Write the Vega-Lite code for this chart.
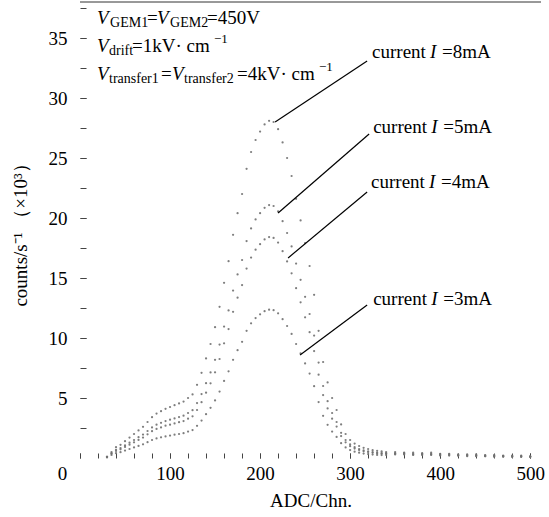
{
  "$schema": "https://vega.github.io/schema/vega-lite/v6.json",
  "width": 461,
  "height": 456,
  "autosize": "none",
  "padding": {"left": 80, "top": 2, "right": 8, "bottom": 59},
  "background": "white",
  "data": {"values": [{}]},
  "config": {
    "view": {"stroke": null},
    "font": "Liberation Serif",
    "text": {"font": "Liberation Serif", "color": "black"},
    "axis": {
      "labelFont": "Liberation Serif",
      "titleFont": "Liberation Serif",
      "labelFontSize": 19,
      "titleFontSize": 19,
      "titleFontWeight": "normal",
      "labelColor": "black",
      "titleColor": "black",
      "domain": false,
      "grid": false,
      "tickColor": "#444",
      "tickWidth": 1,
      "labelOverlap": false,
      "labelBound": false,
      "labelFlush": false
    }
  },
  "datasets": {
    "spectra": [
      {"adc":30,"8mA":0.1,"5mA":0.1,"4mA":0.1,"3mA":0.05},
      {"adc":35,"8mA":0.5,"5mA":0.4,"4mA":0.35,"3mA":0.25},
      {"adc":40,"8mA":0.9,"5mA":0.68,"4mA":0.59,"3mA":0.4},
      {"adc":45,"8mA":1.1,"5mA":0.83,"4mA":0.72,"3mA":0.48},
      {"adc":50,"8mA":1.4,"5mA":1.05,"4mA":0.92,"3mA":0.62},
      {"adc":55,"8mA":1.7,"5mA":1.28,"4mA":1.11,"3mA":0.75},
      {"adc":60,"8mA":2.0,"5mA":1.5,"4mA":1.31,"3mA":0.88},
      {"adc":65,"8mA":2.3,"5mA":1.73,"4mA":1.51,"3mA":1.01},
      {"adc":70,"8mA":2.6,"5mA":1.95,"4mA":1.7,"3mA":1.14},
      {"adc":75,"8mA":3.0,"5mA":2.25,"4mA":1.97,"3mA":1.32},
      {"adc":80,"8mA":3.4,"5mA":2.55,"4mA":2.23,"3mA":1.5},
      {"adc":85,"8mA":3.7,"5mA":2.78,"4mA":2.42,"3mA":1.63},
      {"adc":90,"8mA":3.9,"5mA":2.93,"4mA":2.55,"3mA":1.72},
      {"adc":95,"8mA":4.1,"5mA":3.08,"4mA":2.69,"3mA":1.8},
      {"adc":100,"8mA":4.25,"5mA":3.19,"4mA":2.78,"3mA":1.87},
      {"adc":105,"8mA":4.4,"5mA":3.3,"4mA":2.88,"3mA":1.94},
      {"adc":110,"8mA":4.55,"5mA":3.41,"4mA":2.98,"3mA":2.0},
      {"adc":115,"8mA":4.7,"5mA":3.53,"4mA":3.08,"3mA":2.07},
      {"adc":120,"8mA":5.0,"5mA":3.75,"4mA":3.28,"3mA":2.2},
      {"adc":125,"8mA":5.3,"5mA":3.98,"4mA":3.47,"3mA":2.33},
      {"adc":130,"8mA":6.1,"5mA":4.58,"4mA":4.0,"3mA":2.68},
      {"adc":135,"8mA":7.1,"5mA":5.33,"4mA":4.65,"3mA":3.12},
      {"adc":140,"8mA":8.3,"5mA":6.23,"4mA":5.44,"3mA":3.65},
      {"adc":145,"8mA":9.5,"5mA":7.13,"4mA":6.22,"3mA":4.18},
      {"adc":150,"8mA":10.9,"5mA":8.18,"4mA":7.14,"3mA":4.8},
      {"adc":155,"8mA":12.6,"5mA":9.45,"4mA":8.25,"3mA":5.54},
      {"adc":160,"8mA":14.6,"5mA":10.95,"4mA":9.56,"3mA":6.42},
      {"adc":165,"8mA":16.4,"5mA":12.3,"4mA":10.74,"3mA":7.22},
      {"adc":170,"8mA":18.6,"5mA":13.95,"4mA":12.18,"3mA":8.18},
      {"adc":175,"8mA":20.4,"5mA":15.3,"4mA":13.36,"3mA":8.98},
      {"adc":180,"8mA":22.0,"5mA":16.5,"4mA":14.41,"3mA":9.68},
      {"adc":185,"8mA":24.1,"5mA":18.08,"4mA":15.79,"3mA":10.6},
      {"adc":190,"8mA":25.5,"5mA":19.13,"4mA":16.7,"3mA":11.22},
      {"adc":195,"8mA":26.5,"5mA":19.88,"4mA":17.36,"3mA":11.66},
      {"adc":200,"8mA":27.2,"5mA":20.4,"4mA":17.82,"3mA":11.97},
      {"adc":205,"8mA":27.8,"5mA":20.85,"4mA":18.21,"3mA":12.23},
      {"adc":210,"8mA":28.1,"5mA":21.08,"4mA":18.41,"3mA":12.36},
      {"adc":215,"8mA":28.0,"5mA":21.0,"4mA":18.34,"3mA":12.32},
      {"adc":220,"8mA":27.4,"5mA":20.55,"4mA":17.95,"3mA":12.06},
      {"adc":225,"8mA":26.3,"5mA":19.73,"4mA":17.23,"3mA":11.57},
      {"adc":230,"8mA":25.0,"5mA":18.75,"4mA":16.38,"3mA":11.0},
      {"adc":235,"8mA":23.5,"5mA":17.63,"4mA":15.39,"3mA":10.34},
      {"adc":240,"8mA":21.6,"5mA":16.2,"4mA":14.15,"3mA":9.5},
      {"adc":245,"8mA":19.8,"5mA":14.85,"4mA":12.97,"3mA":8.71},
      {"adc":250,"8mA":17.9,"5mA":13.43,"4mA":11.72,"3mA":7.88},
      {"adc":255,"8mA":16.0,"5mA":12.0,"4mA":10.48,"3mA":7.04},
      {"adc":260,"8mA":13.6,"5mA":10.2,"4mA":8.91,"3mA":5.98},
      {"adc":265,"8mA":10.6,"5mA":7.95,"4mA":6.94,"3mA":4.66},
      {"adc":270,"8mA":8.0,"5mA":6.0,"4mA":5.24,"3mA":3.52},
      {"adc":275,"8mA":6.3,"5mA":4.73,"4mA":4.13,"3mA":2.77},
      {"adc":280,"8mA":5.0,"5mA":3.75,"4mA":3.28,"3mA":2.2},
      {"adc":285,"8mA":4.0,"5mA":3.0,"4mA":2.62,"3mA":1.76},
      {"adc":290,"8mA":2.8,"5mA":2.1,"4mA":1.83,"3mA":1.23},
      {"adc":295,"8mA":2.0,"5mA":1.5,"4mA":1.31,"3mA":0.88},
      {"adc":300,"8mA":1.5,"5mA":1.13,"4mA":0.98,"3mA":0.66},
      {"adc":305,"8mA":1.2,"5mA":0.9,"4mA":0.79,"3mA":0.53},
      {"adc":310,"8mA":1.0,"5mA":0.75,"4mA":0.66,"3mA":0.44},
      {"adc":315,"8mA":0.85,"5mA":0.64,"4mA":0.56,"3mA":0.37},
      {"adc":320,"8mA":0.75,"5mA":0.56,"4mA":0.49,"3mA":0.33},
      {"adc":325,"8mA":0.65,"5mA":0.49,"4mA":0.43,"3mA":0.29},
      {"adc":330,"8mA":0.6,"5mA":0.45,"4mA":0.39,"3mA":0.26},
      {"adc":335,"8mA":0.55,"5mA":0.41,"4mA":0.36,"3mA":0.24},
      {"adc":340,"8mA":0.5,"5mA":0.4,"4mA":0.35,"3mA":0.25},
      {"adc":350,"8mA":0.5,"5mA":0.4,"4mA":0.35,"3mA":0.3},
      {"adc":360,"8mA":0.45,"5mA":0.4,"4mA":0.35,"3mA":0.3},
      {"adc":370,"8mA":0.45,"5mA":0.35,"4mA":0.3,"3mA":0.25},
      {"adc":380,"8mA":0.4,"5mA":0.35,"4mA":0.3,"3mA":0.25},
      {"adc":390,"8mA":0.45,"5mA":0.35,"4mA":0.3,"3mA":0.25},
      {"adc":400,"8mA":0.35,"5mA":0.3,"4mA":0.25,"3mA":0.2},
      {"adc":410,"8mA":0.35,"5mA":0.3,"4mA":0.25,"3mA":0.2},
      {"adc":420,"8mA":0.3,"5mA":0.25,"4mA":0.2,"3mA":0.2},
      {"adc":430,"8mA":0.3,"5mA":0.25,"4mA":0.2,"3mA":0.15},
      {"adc":440,"8mA":0.3,"5mA":0.2,"4mA":0.2,"3mA":0.15},
      {"adc":450,"8mA":0.25,"5mA":0.2,"4mA":0.15,"3mA":0.15},
      {"adc":460,"8mA":0.25,"5mA":0.2,"4mA":0.15,"3mA":0.1},
      {"adc":470,"8mA":0.2,"5mA":0.15,"4mA":0.15,"3mA":0.1},
      {"adc":480,"8mA":0.2,"5mA":0.15,"4mA":0.1,"3mA":0.1},
      {"adc":490,"8mA":0.2,"5mA":0.15,"4mA":0.1,"3mA":0.1},
      {"adc":500,"8mA":0.15,"5mA":0.1,"4mA":0.1,"3mA":0.1}
    ],
    "ann": [
      {"lab":"=8mA","x1":216.7,"y1":28.0,"x2":318.9,"y2":33.08,"tx":324.4,"ty":33.33},
      {"lab":"=5mA","x1":220.0,"y1":20.42,"x2":321.1,"y2":27.0,"tx":325.6,"ty":27.08},
      {"lab":"=4mA","x1":231.1,"y1":16.67,"x2":318.9,"y2":22.17,"tx":323.3,"ty":22.5},
      {"lab":"=3mA","x1":244.4,"y1":8.58,"x2":318.9,"y2":12.75,"tx":325.6,"ty":12.75}
    ]
  },
  "resolve": {"axis": {"x": "independent", "y": "independent"}},
  "layer": [
    {
      "data": {"name": "spectra"},
      "transform": [{"fold": ["8mA", "5mA", "4mA", "3mA"], "as": ["current", "count"]}],
      "mark": {"type": "point", "filled": true, "size": 5, "color": "#707070", "opacity": 0.9},
      "encoding": {
        "x": {
          "field": "adc", "type": "quantitative",
          "scale": {"domain": [0, 512], "nice": false, "zero": false},
          "axis": {
            "title": "ADC/Chn.",
            "orient": "bottom",
            "values": [0, 100, 200, 300, 400, 500],
            "labelOffset": {"expr": "datum.value === 0 ? -18 : 0"},
            "tickSize": -5,
            "labelPadding": 11,
            "titlePadding": 8
          }
        },
        "y": {
          "field": "count", "type": "quantitative",
          "scale": {"domain": [0, 38], "nice": false},
          "axis": {
            "title": "counts/s⁻¹ （×10³）",
            "orient": "left",
            "values": [5, 10, 15, 20, 25, 30, 35],
            "tickSize": -6,
            "labelPadding": 19,
            "titlePadding": 18
          }
        },
        "detail": {"field": "current"}
      }
    },
    {
      "mark": {"type": "rule", "color": "#333", "strokeWidth": 1},
      "encoding": {
        "y": {"datum": 38, "axis": {
          "orient": "left",
          "values": [2.5,5,7.5,10,12.5,15,17.5,20,22.5,25,27.5,30,32.5,35,37.5],
          "labels": false, "title": null, "tickSize": -6
        }}
      }
    },
    {
      "data": {"name": "ann"},
      "mark": {"type": "rule", "color": "black", "strokeWidth": 1.2},
      "encoding": {
        "x": {"field": "x1", "type": "quantitative", "axis": {
          "orient": "bottom",
          "values": [0,20,40,60,80,100,120,140,160,180,200,220,240,260,280,300,320,340,360,380,400,420,440,460,480,500],
          "labels": false, "title": null, "tickSize": -5
        }},
        "y": {"field": "y1", "type": "quantitative", "axis": null},
        "x2": {"field": "x2"},
        "y2": {"field": "y2"}
      }
    },
    {
      "data": {"name": "ann"},
      "mark": {"type": "text", "align": "left", "baseline": "alphabetic", "fontSize": 19},
      "encoding": {
        "x": {"field": "tx", "type": "quantitative", "axis": null},
        "y": {"field": "ty", "type": "quantitative", "axis": null},
        "text": {"value": "current"}
      }
    },
    {
      "data": {"name": "ann"},
      "mark": {"type": "text", "align": "left", "baseline": "alphabetic", "fontSize": 19, "fontStyle": "italic", "dx": 58},
      "encoding": {
        "x": {"field": "tx", "type": "quantitative", "axis": null},
        "y": {"field": "ty", "type": "quantitative", "axis": null},
        "text": {"value": "I"}
      }
    },
    {
      "data": {"name": "ann"},
      "mark": {"type": "text", "align": "left", "baseline": "alphabetic", "fontSize": 19, "dx": 70},
      "encoding": {
        "x": {"field": "tx", "type": "quantitative", "axis": null},
        "y": {"field": "ty", "type": "quantitative", "axis": null},
        "text": {"field": "lab"}
      }
    },
    {"mark": {"type": "text", "align": "left", "baseline": "alphabetic", "fontSize": 19, "fontStyle": "italic", "dx": 0},
     "encoding": {"x": {"datum": 18.9, "axis": null}, "y": {"datum": 36.17, "axis": null}, "text": {"value": "V"}}},
    {"mark": {"type": "text", "align": "left", "baseline": "alphabetic", "fontSize": 14, "dx": 13, "dy": 3},
     "encoding": {"x": {"datum": 18.9, "axis": null}, "y": {"datum": 36.17, "axis": null}, "text": {"value": "GEM1"}}},
    {"mark": {"type": "text", "align": "left", "baseline": "alphabetic", "fontSize": 19, "dx": 50},
     "encoding": {"x": {"datum": 18.9, "axis": null}, "y": {"datum": 36.17, "axis": null}, "text": {"value": "="}}},
    {"mark": {"type": "text", "align": "left", "baseline": "alphabetic", "fontSize": 19, "fontStyle": "italic", "dx": 60},
     "encoding": {"x": {"datum": 18.9, "axis": null}, "y": {"datum": 36.17, "axis": null}, "text": {"value": "V"}}},
    {"mark": {"type": "text", "align": "left", "baseline": "alphabetic", "fontSize": 14, "dx": 73, "dy": 3},
     "encoding": {"x": {"datum": 18.9, "axis": null}, "y": {"datum": 36.17, "axis": null}, "text": {"value": "GEM2"}}},
    {"mark": {"type": "text", "align": "left", "baseline": "alphabetic", "fontSize": 19, "dx": 110},
     "encoding": {"x": {"datum": 18.9, "axis": null}, "y": {"datum": 36.17, "axis": null}, "text": {"value": "=450V"}}},
    {"mark": {"type": "text", "align": "left", "baseline": "alphabetic", "fontSize": 19, "fontStyle": "italic", "dx": 0},
     "encoding": {"x": {"datum": 18.9, "axis": null}, "y": {"datum": 33.83, "axis": null}, "text": {"value": "V"}}},
    {"mark": {"type": "text", "align": "left", "baseline": "alphabetic", "fontSize": 14, "dx": 12, "dy": 3},
     "encoding": {"x": {"datum": 18.9, "axis": null}, "y": {"datum": 33.83, "axis": null}, "text": {"value": "drift"}}},
    {"mark": {"type": "text", "align": "left", "baseline": "alphabetic", "fontSize": 19, "dx": 35},
     "encoding": {"x": {"datum": 18.9, "axis": null}, "y": {"datum": 33.83, "axis": null}, "text": {"value": "=1kV· cm"}}},
    {"mark": {"type": "text", "align": "left", "baseline": "alphabetic", "fontSize": 13, "dx": 117, "dy": -9},
     "encoding": {"x": {"datum": 18.9, "axis": null}, "y": {"datum": 33.83, "axis": null}, "text": {"value": "−1"}}},
    {"mark": {"type": "text", "align": "left", "baseline": "alphabetic", "fontSize": 19, "fontStyle": "italic", "dx": 0},
     "encoding": {"x": {"datum": 18.9, "axis": null}, "y": {"datum": 31.5, "axis": null}, "text": {"value": "V"}}},
    {"mark": {"type": "text", "align": "left", "baseline": "alphabetic", "fontSize": 14, "dx": 12, "dy": 3},
     "encoding": {"x": {"datum": 18.9, "axis": null}, "y": {"datum": 31.5, "axis": null}, "text": {"value": "transfer1"}}},
    {"mark": {"type": "text", "align": "left", "baseline": "alphabetic", "fontSize": 19, "dx": 64},
     "encoding": {"x": {"datum": 18.9, "axis": null}, "y": {"datum": 31.5, "axis": null}, "text": {"value": "="}}},
    {"mark": {"type": "text", "align": "left", "baseline": "alphabetic", "fontSize": 19, "fontStyle": "italic", "dx": 75},
     "encoding": {"x": {"datum": 18.9, "axis": null}, "y": {"datum": 31.5, "axis": null}, "text": {"value": "V"}}},
    {"mark": {"type": "text", "align": "left", "baseline": "alphabetic", "fontSize": 14, "dx": 87, "dy": 3},
     "encoding": {"x": {"datum": 18.9, "axis": null}, "y": {"datum": 31.5, "axis": null}, "text": {"value": "transfer2"}}},
    {"mark": {"type": "text", "align": "left", "baseline": "alphabetic", "fontSize": 19, "dx": 140},
     "encoding": {"x": {"datum": 18.9, "axis": null}, "y": {"datum": 31.5, "axis": null}, "text": {"value": "=4kV· cm"}}},
    {"mark": {"type": "text", "align": "left", "baseline": "alphabetic", "fontSize": 13, "dx": 222, "dy": -9},
     "encoding": {"x": {"datum": 18.9, "axis": null}, "y": {"datum": 31.5, "axis": null}, "text": {"value": "−1"}}}
  ]
}
